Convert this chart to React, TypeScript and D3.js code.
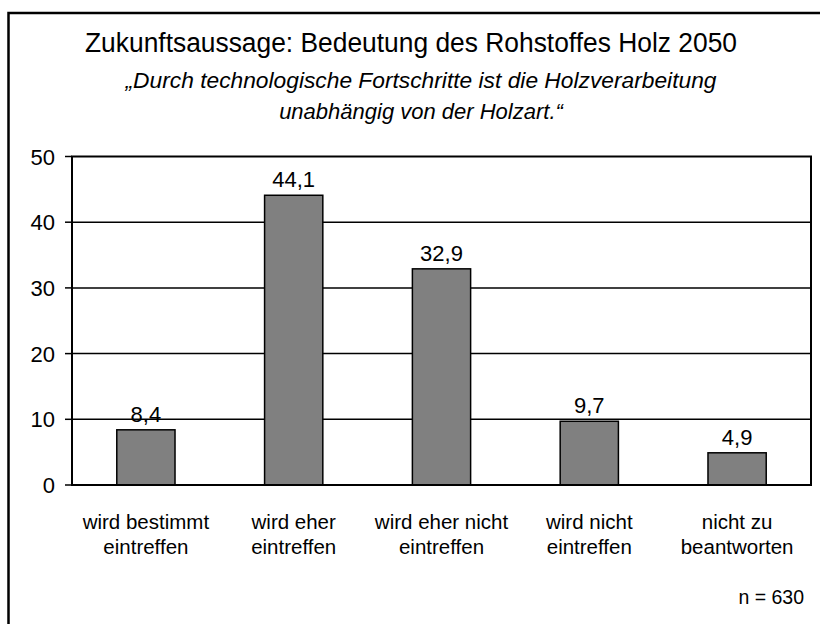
import React from "react";
import * as d3 from "d3";

const categories: string[][] = [
  ["wird bestimmt", "eintreffen"],
  ["wird eher", "eintreffen"],
  ["wird eher nicht", "eintreffen"],
  ["wird nicht", "eintreffen"],
  ["nicht zu", "beantworten"],
];
const values: number[] = [8.4, 44.1, 32.9, 9.7, 4.9];
const yTicks: number[] = [0, 10, 20, 30, 40, 50];
const title = "Zukunftsaussage: Bedeutung des Rohstoffes Holz 2050";
const subtitle = ["„Durch technologische Fortschritte ist die Holzverarbeitung", "unabhängig von der Holzart.“"];
const note = "n = 630";

const W = 820;
const H = 624;
const plot = { left: 72, right: 811, top: 156.5, bottom: 485 };
const font = "'Liberation Sans', Arial, sans-serif";

export default function App() {
  const keys = categories.map((_, i) => String(i));
  const x = d3.scaleBand<string>().domain(keys).range([plot.left, plot.right]).paddingInner(0.606).paddingOuter(0.303);
  const y = d3.scaleLinear().domain([0, 50]).range([plot.bottom, plot.top]);
  const fmt = (v: number) => v.toFixed(1).replace(".", ",");
  const cx = (i: number) => (x(String(i)) as number) + x.bandwidth() / 2;
  return (
    <svg width={W} height={H} style={{ position: "absolute", left: 0, top: 0, background: "#fff" }} fontFamily={font}>
      <rect x={0} y={0} width={W} height={H} fill="#fff" />
      {/* outer frame (right and bottom cut off) */}
      <path d={`M8.5,${H + 5} V13 H${W + 5}`} fill="none" stroke="#000" strokeWidth={2.5} />
      <text x={411} y={52} textAnchor="middle" fontSize={27} textLength={652} lengthAdjust="spacingAndGlyphs">{title}</text>
      <text x={421} y={88} textAnchor="middle" fontSize={22} fontStyle="italic" textLength={591} lengthAdjust="spacingAndGlyphs">{subtitle[0]}</text>
      <text x={421} y={119} textAnchor="middle" fontSize={22} fontStyle="italic">{subtitle[1]}</text>
      {/* gridlines */}
      {yTicks.filter((t) => t > 0 && t < 50).map((t) => (
        <line key={t} x1={plot.left} x2={plot.right} y1={y(t)} y2={y(t)} stroke="#000" strokeWidth={1.5} />
      ))}
      {/* bars */}
      {values.map((v, i) => (
        <g key={i}>
          <rect x={x(String(i))} y={y(v)} width={x.bandwidth()} height={y(0) - y(v)} fill="#808080" stroke="#000" strokeWidth={1.5} />
          <text x={cx(i)} y={y(v) - 8} textAnchor="middle" fontSize={22}>{fmt(v)}</text>
        </g>
      ))}
      {/* plot frame */}
      <rect x={plot.left} y={plot.top} width={plot.right - plot.left} height={plot.bottom - plot.top} fill="none" stroke="#000" strokeWidth={2} />
      {/* y ticks */}
      {yTicks.map((t) => (
        <g key={t}>
          <line x1={65} x2={plot.left} y1={y(t)} y2={y(t)} stroke="#000" strokeWidth={1.5} />
          <text x={55} y={y(t) + 8} textAnchor="end" fontSize={22}>{t}</text>
        </g>
      ))}
      {/* x labels */}
      {categories.map((lines, i) => (
        <text key={i} x={cx(i)} textAnchor="middle" fontSize={20.5}>
          {lines.map((l, j) => (
            <tspan key={j} x={cx(i)} y={529 + j * 25}>{l}</tspan>
          ))}
        </text>
      ))}
      <text x={804} y={604} textAnchor="end" fontSize={19.5}>{note}</text>
    </svg>
  );
}
